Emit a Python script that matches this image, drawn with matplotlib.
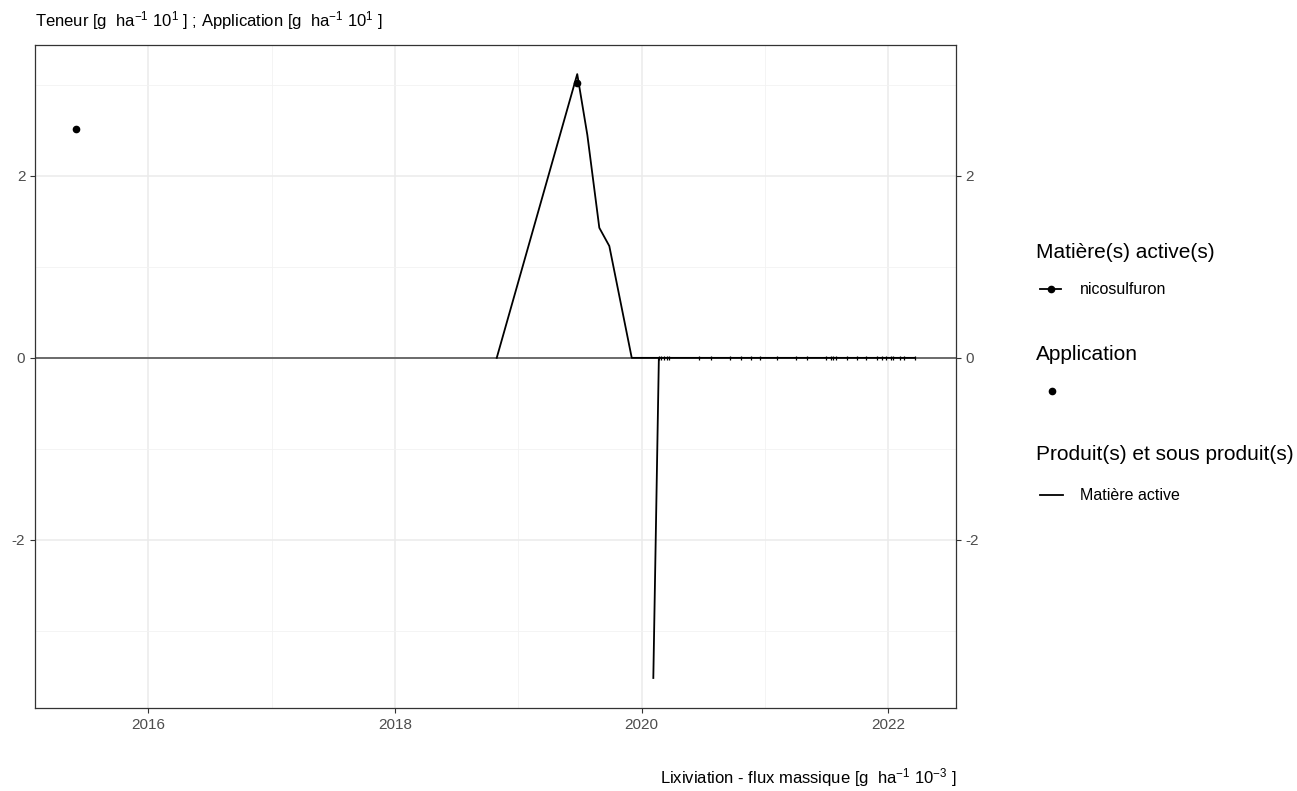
import matplotlib.pyplot as plt
from matplotlib.lines import Line2D

plt.rcParams['font.family'] = ['Liberation Sans', 'DejaVu Sans']
plt.rcParams['mathtext.fontset'] = 'custom'
plt.rcParams['mathtext.rm'] = 'Liberation Sans'
plt.rcParams['mathtext.it'] = 'Liberation Sans'
plt.rcParams['axes.unicode_minus'] = False

# data (decimal years)
teneur_x = [2018.825, 2019.478, 2019.56, 2019.657, 2019.738, 2019.92, 2020.14]
teneur_y = [0, 3.12, 2.45, 1.43, 1.23, 0, 0]

lix_x = [2020.095, 2020.140, 2020.160, 2020.181, 2020.203, 2020.221, 2020.465,
         2020.565, 2020.716, 2020.803, 2020.884, 2020.959, 2021.095, 2021.249,
         2021.344, 2021.498, 2021.533, 2021.551, 2021.573, 2021.668, 2021.749,
         2021.817, 2021.912, 2021.946, 2021.979, 2022.019, 2022.038, 2022.092,
         2022.127, 2022.217]
lix_y = [-3.52] + [0] * 29

app_x = [2015.41, 2019.478]
app_y = [2.52, 3.02]

x_ticks = [2016, 2018, 2020, 2022]
y_ticks = [-2, 0, 2]

W, H = 1297, 791
fig = plt.figure(figsize=(W / 100, H / 100), dpi=100)
ax = fig.add_axes([35 / W, 1 - 708 / H, (956 - 35) / W, (708 - 45) / H])

# grid like theme_bw
ax.set_xticks(x_ticks)
ax.set_yticks(y_ticks)
ax.set_xticks([2015, 2017, 2019, 2021], minor=True)
ax.set_yticks([-3, -1, 1, 3], minor=True)
ax.set_xlim(2015.08, 2022.55)
ax.set_ylim(-3.85, 3.44)
ax.grid(which='major', color='#EBEBEB', lw=1.1)
ax.grid(which='minor', color='#F2F2F2', lw=0.6)
ax.tick_params(which='minor', length=0)
ax.tick_params(which='major', length=3.5, color='#333333', labelsize=11,
               labelcolor='#4D4D4D')
ax.set_axisbelow(True)
for s in ax.spines.values():
    s.set_color('#333333')
    s.set_linewidth(0.9)

ax.axhline(0, color='#555555', lw=1.2, zorder=1)

ax.plot(teneur_x, teneur_y, color='black', lw=1.3, zorder=3)
ax.plot(lix_x, lix_y, color='black', lw=1.3, zorder=3)
ax.plot(lix_x[1:], lix_y[1:], ls='none', marker='|', ms=3.5, mew=0.9,
        color='black', zorder=3)
ax.plot(app_x, app_y, ls='none', marker='o', ms=4.5, color='black', zorder=4)

# secondary axis on the right
ax2 = ax.twinx()
ax2.set_ylim(ax.get_ylim())
ax2.set_yticks(y_ticks)
ax2.tick_params(length=3.5, color='#333333', labelsize=11, labelcolor='#4D4D4D')
for s in ax2.spines.values():
    s.set_visible(False)
ax.set_xlim(2015.08, 2022.55)

fig.text(35 / W, 1 - 21 / H,
         r"Teneur [g  ha$^{-1}$ 10$^{1}$ ] ; Application [g  ha$^{-1}$ 10$^{1}$ ]",
         ha='left', va='center', fontsize=12)
fig.text(956 / W, 1 - 778 / H,
         r"Lixiviation - flux massique [g  ha$^{-1}$ 10$^{-3}$ ]",
         ha='right', va='center', fontsize=12)

# legend drawn by hand (ggplot style, three guides)
def fx(px):
    return px / W

def fy(py):
    return 1 - py / H

title_fs = 15
entry_fs = 11.5
fig.text(fx(1036), fy(253), 'Matière(s) active(s)', fontsize=title_fs, va='center')
fig.add_artist(Line2D([fx(1040), fx(1061)], [fy(289), fy(289)], color='black', lw=1.3))
fig.add_artist(Line2D([fx(1050.5)], [fy(289)], marker='o', ms=4.5, color='black'))
fig.text(fx(1080), fy(289), 'nicosulfuron', fontsize=entry_fs, va='center')

fig.text(fx(1036), fy(355), 'Application', fontsize=title_fs, va='center')
fig.add_artist(Line2D([fx(1052)], [fy(391)], marker='o', ms=4.5, color='black'))

fig.text(fx(1036), fy(455), 'Produit(s) et sous produit(s)', fontsize=title_fs, va='center')
fig.add_artist(Line2D([fx(1040), fx(1063)], [fy(495), fy(495)], color='black', lw=1.3))
fig.text(fx(1080), fy(495), 'Matière active', fontsize=entry_fs, va='center')

fig.savefig('out.png', dpi=100)
